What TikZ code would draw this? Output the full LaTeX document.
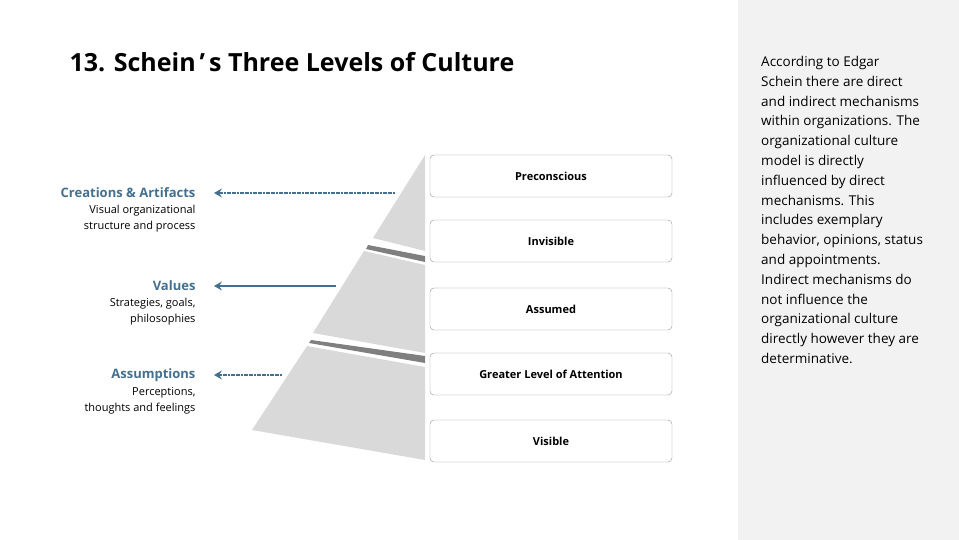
\documentclass[tikz,border=0pt]{standalone}
\usepackage{fontspec}
\setmainfont{Open Sans}
\usetikzlibrary{arrows.meta}
\definecolor{blu}{HTML}{44708F}
\definecolor{lg}{HTML}{D9D9D9}
\definecolor{dg}{HTML}{7F7F7F}
\definecolor{panel}{HTML}{F2F2F2}
\tikzset{
  lvl/.style={draw=gray!85, rounded corners=4pt, minimum width=242pt, minimum height=42pt, font=\fontsize{11}{13}\selectfont\bfseries, inner sep=0pt},
  arr/.style={draw=blu, line width=1.3pt, -{Stealth[length=8pt,width=9pt,inset=3pt]}},
  dsh/.style={arr, dash pattern=on 2pt off 0.6pt},
  head/.style={anchor=east, text=blu, font=\fontsize{13}{15}\selectfont\bfseries},
  sub/.style={anchor=north east, align=right, font=\fontsize{11}{16}\selectfont}
}
\begin{document}
\begin{tikzpicture}[x=1pt,y=-1pt]
\useasboundingbox (0,0) rectangle (959,540);
\fill[panel] (738,0) rectangle (959,540);
\node[anchor=west, font=\fontsize{25}{30}\selectfont\bfseries] (title) at (66,62) {13. Schein\hspace{4pt}’\hspace{4pt}s Three Levels of Culture};
% pyramid
\fill[lg] (425,155) -- (373,238) -- (425,251) -- cycle;
\fill[dg] (368,245) -- (425,256) -- (425,262) -- (366,249) -- cycle;
\fill[lg] (364,251) -- (425,265) -- (425,353) -- (313,333) -- cycle;
\fill[dg] (311,340) -- (425,356) -- (425,363) -- (309,343) -- cycle;
\fill[lg] (307,346) -- (425,367) -- (425,460) -- (252,430) -- cycle;
% boxes
\node[lvl] (b1) at (551,176) {Preconscious};
\node[lvl] (b2) at (551,241) {Invisible};
\node[lvl] (b3) at (551,309) {Assumed};
\node[lvl] (b4) at (551,374) {Greater Level of Attention};
\node[lvl] (b5) at (551,441) {Visible};
% labels
\node[head] (h1) at (199,193) {Creations \& Artifacts};
\node[sub] (s1) at (199,202) {Visual organizational\\structure and process};
\node[head] (h2) at (199,286) {Values};
\node[sub] (s2) at (199,295) {Strategies, goals,\\philosophies};
\node[head] (h3) at (199,375) {Assumptions};
\node[sub] (s3) at (199,384) {Perceptions,\\thoughts and feelings};
\coordinate (a1) at (395,193);
\coordinate (a2) at (336,286);
\coordinate (a3) at (282,375);
\draw[dsh] (a1) -- (h1.east -| 214,0);
\draw[arr] (a2) -- (h2.east -| 214,0);
\draw[dsh] (a3) -- (h3.east -| 214,0);
\node[anchor=north west, align=left, font=\fontsize{13.5}{19.8}\selectfont, inner sep=0pt] (txt) at (761,56) {According to Edgar\\Schein there are direct\\and indirect mechanisms\\within organizations. The\\organizational culture\\model is directly\\influenced by direct\\mechanisms. This\\includes exemplary\\behavior, opinions, status\\and appointments.\\Indirect mechanisms do\\not influence the\\organizational culture\\directly however they are\\determinative.};
\end{tikzpicture}
\end{document}
